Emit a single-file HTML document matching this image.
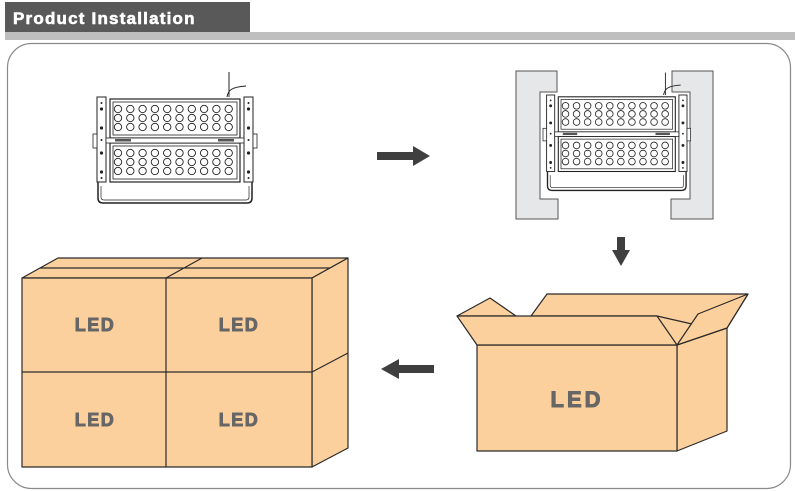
<!DOCTYPE html>
<html><head><meta charset="utf-8"><style>
body{margin:0;background:#fff;width:795px;height:491px;overflow:hidden}
svg{display:block}
</style></head><body>
<svg width="795" height="491" viewBox="0 0 795 491" xmlns="http://www.w3.org/2000/svg">
<defs>
<g id="panel">
  <rect x="110" y="0" width="130" height="39" fill="#fff" stroke="#222" stroke-width="1.2"/>
  <rect x="113" y="3" width="124" height="33" fill="none" stroke="#222" stroke-width="0.8"/>
  <g fill="none" stroke="#222" stroke-width="0.9">
    <g id="row">
      <circle cx="118" cy="10" r="3.7"/><circle cx="130.3" cy="10" r="3.7"/><circle cx="142.6" cy="10" r="3.7"/><circle cx="154.9" cy="10" r="3.7"/><circle cx="167.2" cy="10" r="3.7"/><circle cx="179.5" cy="10" r="3.7"/><circle cx="191.8" cy="10" r="3.7"/><circle cx="204.1" cy="10" r="3.7"/><circle cx="216.4" cy="10" r="3.7"/><circle cx="228.7" cy="10" r="3.7"/>
    </g>
    <use href="#row" y="9"/><use href="#row" y="18"/>
  </g>
</g>
<g id="fixture">
  <path d="M229 72 V97 M227 97 C228 90 232 87 246 86" fill="none" stroke="#222" stroke-width="1"/>
  <path d="M98 182 V198 Q98 203 103 203 H247 Q252 203 252 198 V182" fill="none" stroke="#222" stroke-width="1.5"/>
  <path d="M101 186 V197 Q101 200 104 200 H246 Q249 200 249 197 V186" fill="none" stroke="#222" stroke-width="0.7"/>
  <rect x="97" y="97" width="9" height="85" fill="#fff" stroke="#222" stroke-width="1"/>
  <rect x="244" y="97" width="9" height="85" fill="#fff" stroke="#222" stroke-width="1"/>
  <rect x="93" y="134" width="4" height="14" fill="#fff" stroke="#222" stroke-width="0.8"/>
  <rect x="253" y="134" width="4" height="14" fill="#fff" stroke="#222" stroke-width="0.8"/>
  <g fill="#222">
    <circle cx="101.5" cy="109" r="1.6"/><circle cx="101.5" cy="128" r="1.6"/><circle cx="101.5" cy="153" r="1.6"/><circle cx="101.5" cy="172" r="1.6"/><circle cx="101.5" cy="103" r="1"/><circle cx="101.5" cy="140" r="1"/><circle cx="101.5" cy="178" r="1"/>
    <circle cx="248.5" cy="109" r="1.6"/><circle cx="248.5" cy="128" r="1.6"/><circle cx="248.5" cy="153" r="1.6"/><circle cx="248.5" cy="172" r="1.6"/><circle cx="248.5" cy="103" r="1"/><circle cx="248.5" cy="140" r="1"/><circle cx="248.5" cy="178" r="1"/>
  </g>
  <use href="#panel" y="99"/>
  <use href="#panel" y="143"/>
  <rect x="106" y="138" width="138" height="5" fill="#fff" stroke="#222" stroke-width="0.8"/>
  <rect x="115" y="139" width="16" height="2.5" fill="#555"/><rect x="218" y="139" width="16" height="2.5" fill="#555"/>
</g>
</defs>

<!-- header -->
<rect x="5" y="2" width="245" height="30" fill="#595959"/>
<text x="13" y="24" font-family="Liberation Sans, sans-serif" font-weight="bold" font-size="17" fill="#fff" stroke="#fff" stroke-width="0.6" letter-spacing="1.2">Product  Installation</text>
<rect x="5" y="32" width="790" height="8" fill="#bfbfbf"/>
<rect x="7.5" y="43.5" width="783" height="445" rx="24" fill="#fff" stroke="#8a8a8a" stroke-width="1.2"/>

<use href="#fixture"/>

<!-- clamps -->
<path d="M516 71 H557 V92 H540 V199 H558 V219 H516 Z" fill="#e6e7e9" stroke="#555" stroke-width="1"/>
<path d="M713 71 H672 V92 H690 V199 H671 V219 H713 Z" fill="#e6e7e9" stroke="#555" stroke-width="1"/>
<g transform="translate(459.3,7.7) scale(0.9)"><use href="#fixture"/></g>

<!-- arrows -->
<path d="M377 152 H413 V146 L430 156 L413 166 V160 H377 Z" fill="#3f3f3f"/>
<path d="M617 237 H625 V250 H630 L621 266 L612 250 H617 Z" fill="#3f3f3f"/>
<path d="M434 365 H399 V359 L381 369 L399 379 V373 H434 Z" fill="#3f3f3f"/>

<!-- stack of boxes -->
<g stroke="#2a2a2a" stroke-width="1.2" fill="#fcd09c" stroke-linejoin="round">
  <path d="M22 278 L58 258 H348 L312 278 Z"/>
  <path d="M312 278 L348 258 V448 L312 467 Z"/>
  <rect x="22" y="278" width="290" height="189"/>
  <path d="M40 268 H330 M202 258 L166 278 M166 278 V467 M22 372 H312 L348 353" fill="none"/>
</g>
<g font-family="Liberation Sans, sans-serif" font-weight="bold" font-size="18" fill="#666" stroke="#666" stroke-width="0.9" letter-spacing="1.5" text-anchor="middle">
  <text x="95" y="331">LED</text><text x="239" y="331">LED</text>
  <text x="95" y="426">LED</text><text x="239" y="426">LED</text>
</g>

<!-- open box -->
<g stroke="#2a2a2a" stroke-width="1.2" fill="#fcd09c" stroke-linejoin="round">
  <path d="M531 316 L547 294 H748 L727 328 L677 345 L657 316 Z"/>
  <path d="M657 316 L692 324 L677 345 Z" stroke="none"/>
  <path d="M657 316 L692 324" fill="none"/>
  <path d="M457 316 L490 298 L516 316 Z"/>
  <path d="M677 345 L727 328 V431 L677 451 Z"/>
  <path d="M677 345 L698 314 L748 294 L727 328 Z"/>
  <rect x="477" y="345" width="200" height="106"/>
  <path d="M457 316 H657 L677 345 H477 Z"/>
</g>
<text x="577" y="407" font-family="Liberation Sans, sans-serif" font-weight="bold" font-size="22" fill="#666" stroke="#666" stroke-width="1" letter-spacing="3" text-anchor="middle">LED</text>
</svg>
</body></html>
